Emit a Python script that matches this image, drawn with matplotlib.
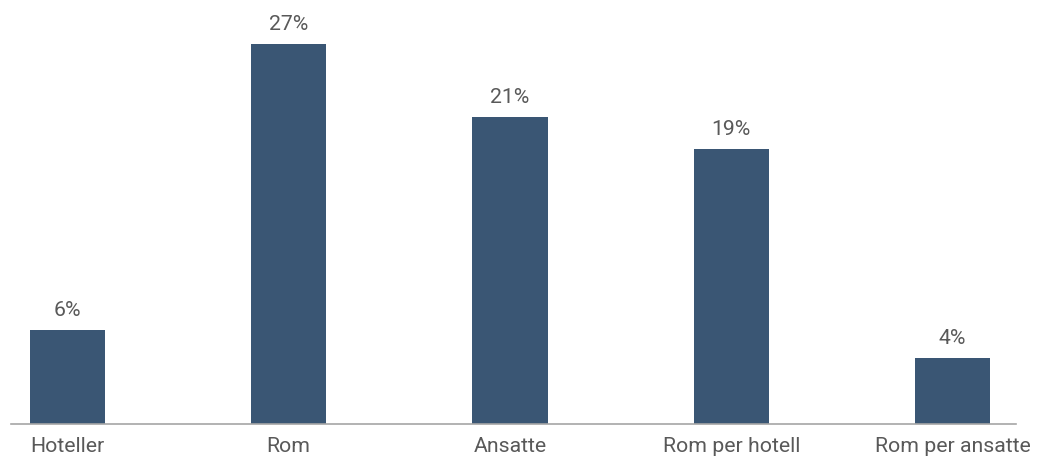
import matplotlib
matplotlib.use("Agg")
import matplotlib.pyplot as plt

categories = ["Hoteller", "Rom", "Ansatte", "Rom per hotell", "Rom per ansatte"]
values = [6.7, 27.1, 21.9, 19.6, 4.7]
labels = ["6%", "27%", "21%", "19%", "4%"]

W, H = 1040, 459
fig = plt.figure(figsize=(W / 100, H / 100), dpi=100)
base_px = 423.7
left_px, right_px = 11, 1015.7
ax = fig.add_axes([left_px / W, 1 - base_px / H, (right_px - left_px) / W, base_px / H])

plt.rcParams['font.family'] = ['Roboto', 'DejaVu Sans']
bar_color = "#3A5674"
text_color = "#595959"
fs = 15.3

x = list(range(len(categories)))
ax.bar(x, values, width=0.339, color=bar_color)
for xi, v, lab in zip(x, values, labels):
    ax.annotate(lab, (xi, v), xytext=(0, 10), textcoords="offset points",
                ha="center", va="baseline", fontsize=fs, color=text_color,
                family=['Roboto', 'DejaVu Sans'])

ax.set_xlim((left_px - 67.5) / 221.25, (right_px - 67.5) / 221.25)
ax.set_ylim(0, base_px / 14.0)
ax.set_xticks(x)
ax.set_xticklabels(categories, fontsize=fs, color=text_color, family=['Roboto', 'DejaVu Sans'])
ax.tick_params(axis='x', length=0, pad=9.5)
ax.set_yticks([])
for s in ["top", "right", "left"]:
    ax.spines[s].set_visible(False)
ax.spines["bottom"].set_color("#A6A6A6")
ax.spines["bottom"].set_linewidth(1.2)

fig.savefig("out.png", dpi=100)
